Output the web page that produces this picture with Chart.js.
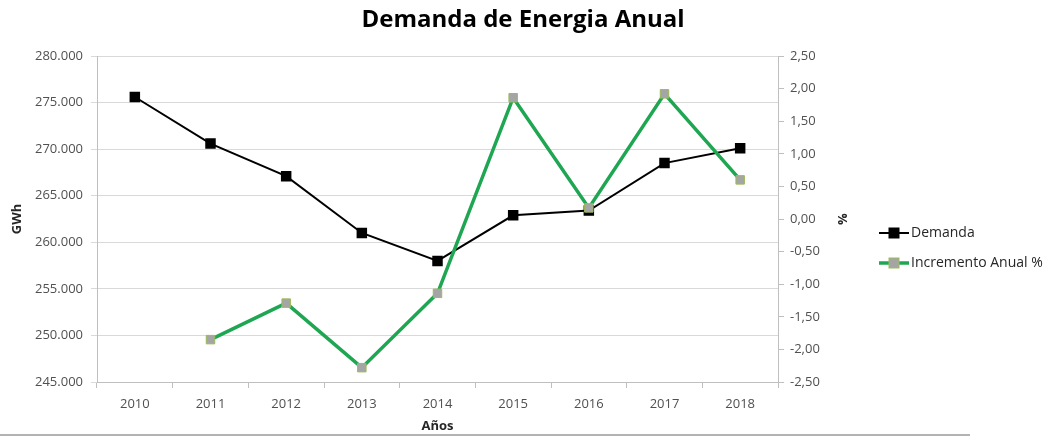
<!DOCTYPE html>
<html>
<head>
<meta charset="utf-8">
<script src="https://cdn.jsdelivr.net/npm/chart.js@4"></script>
<style>
  html, body { margin: 0; padding: 0; background: #fff; }
  #wrap { width: 1046px; height: 436px; position: relative; }
</style>
</head>
<body>
<div id="wrap"><canvas id="demanda_grafica"></canvas></div>
<script>
const anios = ['2010', '2011', '2012', '2013', '2014', '2015', '2016', '2017', '2018'];
const demanda = [275600, 270600, 267100, 261000, 258000, 262900, 263400, 268500, 270100];
const incremento = [null, -1.85, -1.29, -2.28, -1.14, 1.86, 0.17, 1.92, 0.60];

const verde = '#1fa652';
const gris = '#505050';

// titulo, leyenda y linea inferior dibujados a mano
const extras = {
  id: 'extras',
  afterDraw(chart) {
    const c = chart.ctx;
    c.save();
    c.fillStyle = '#000';
    c.font = 'bold 24px "Open Sans"';
    c.textAlign = 'center';
    c.textBaseline = 'middle';
    c.fillText('Demanda de Energia Anual', 523, 20);

    const items = [
      { txt: 'Demanda', color: '#000', fill: '#000', borde: '#000', w: 2, y: 233 },
      { txt: 'Incremento Anual %', color: verde, fill: '#a5a5a5', borde: '#9bbb59', w: 3.5, y: 263 }
    ];
    c.font = '14px "Open Sans"';
    c.textAlign = 'left';
    items.forEach(it => {
      c.strokeStyle = it.color;
      c.lineWidth = it.w;
      c.beginPath();
      c.moveTo(879, it.y);
      c.lineTo(909, it.y);
      c.stroke();
      c.fillStyle = it.fill;
      c.fillRect(889, it.y - 5, 10, 10);
      c.strokeStyle = it.borde;
      c.lineWidth = 1;
      c.strokeRect(889, it.y - 5, 10, 10);
      c.fillStyle = '#262626';
      c.fillText(it.txt, 911, it.y);
    });

    c.strokeStyle = '#9a9a9a';
    c.lineWidth = 1.5;
    c.beginPath();
    c.moveTo(0, 435);
    c.lineTo(970, 435);
    c.stroke();
    c.restore();
  }
};

const ctx = document.getElementById('demanda_grafica').getContext('2d');

new Chart(ctx, {
  type: 'line',
  data: {
    labels: anios,
    datasets: [
      {
        label: 'Incremento Anual %',
        data: incremento,
        yAxisID: 'y2',
        order: 0,
        borderColor: verde,
        borderWidth: 3.5,
        pointStyle: 'rect',
        pointRadius: 6,
        pointBackgroundColor: '#a5a5a5',
        pointBorderColor: '#9bbb59',
        pointBorderWidth: 1,
        tension: 0
      },
      {
        label: 'Demanda',
        data: demanda,
        yAxisID: 'y',
        order: 1,
        borderColor: '#000',
        borderWidth: 2,
        pointStyle: 'rect',
        pointRadius: 6,
        pointBackgroundColor: '#000',
        pointBorderColor: '#000',
        tension: 0
      }
    ]
  },
  options: {
    responsive: true,
    maintainAspectRatio: false,
    animation: false,
    layout: { padding: { top: 56, right: 191, left: 0, bottom: 0 } },
    plugins: {
      legend: { display: false },
      title: { display: false },
      tooltip: { enabled: false }
    },
    scales: {
      x: {
        offset: true,
        grid: { offset: true, drawOnChartArea: false, tickLength: 6, color: '#bfbfbf' },
        border: { color: '#bfbfbf' },
        ticks: { color: gris, font: { family: 'Open Sans', size: 13 }, padding: 8 },
        title: { display: true, text: 'Años', color: '#262626', font: { family: 'Open Sans', size: 13, weight: 'bold' }, padding: { top: 0, bottom: 2 } },
        afterFit: s => { s.height = 54; }
      },
      y: {
        position: 'left',
        min: 245000,
        max: 280000,
        ticks: {
          stepSize: 5000,
          color: gris,
          font: { family: 'Open Sans', size: 13 },
          padding: 8,
          callback: v => v.toString().replace(/\B(?=(\d{3})+(?!\d))/g, '.')
        },
        grid: { color: '#d9d9d9', tickLength: 6 },
        border: { color: '#bfbfbf' },
        title: { display: true, text: 'GWh', color: '#262626', font: { family: 'Open Sans', size: 13, weight: 'bold' }, padding: { top: 9, bottom: 0 } },
        afterFit: s => { s.width = 97; }
      },
      y2: {
        position: 'right',
        min: -2.5,
        max: 2.5,
        ticks: {
          stepSize: 0.5,
          color: gris,
          font: { family: 'Open Sans', size: 13 },
          padding: 6,
          callback: v => v.toFixed(2).replace('.', ',')
        },
        grid: { drawOnChartArea: false, color: '#bfbfbf', tickLength: 6 },
        border: { color: '#bfbfbf' },
        title: { display: true, text: '%', color: '#262626', font: { family: 'Open Sans', size: 13, weight: 'bold' }, padding: { top: 5, bottom: 0 } },
        afterFit: s => { s.width = 77; }
      }
    }
  },
  plugins: [extras]
});
</script>
</body>
</html>
